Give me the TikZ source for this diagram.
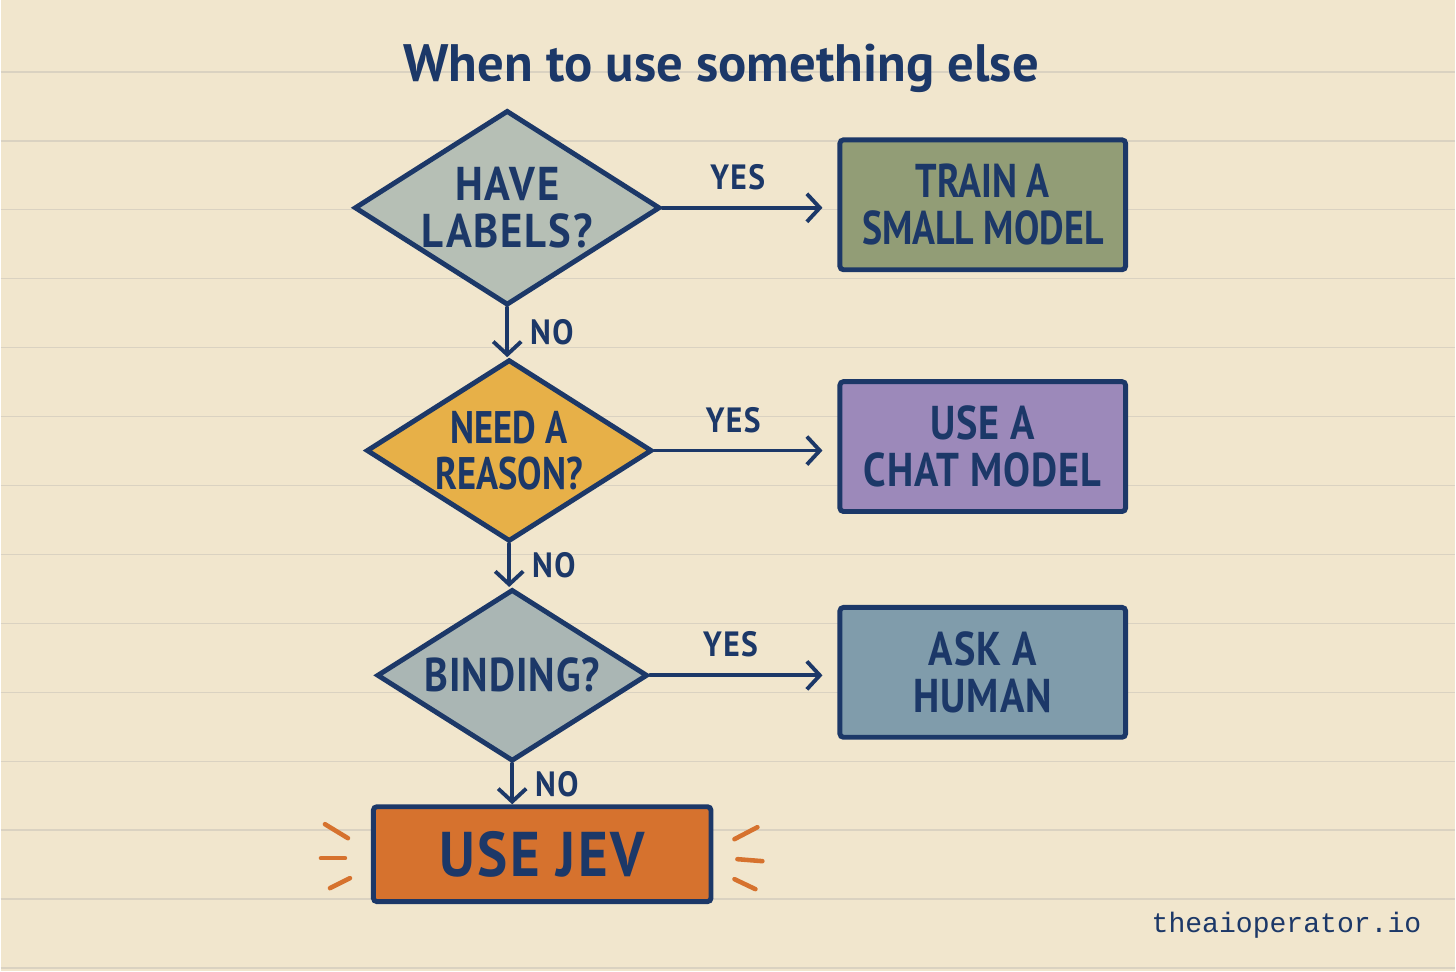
\documentclass[tikz,border=0pt]{standalone}
\usepackage{fontspec}
\usetikzlibrary{shapes.geometric,arrows.meta,positioning}
\newfontfamily\handfont{PT Sans}[FakeStretch=0.8]
\newfontfamily\handmid{PT Sans}[FakeStretch=0.85, LetterSpace=2]
\newfontfamily\handwide{PT Sans}[FakeStretch=0.9, LetterSpace=4]
\newfontfamily\titlehand{PT Sans}
\newfontfamily\sitefont{Liberation Mono}
\definecolor{mypaper}{RGB}{241,230,205}
\definecolor{myrule}{RGB}{218,210,193}
\definecolor{myink}{RGB}{28,56,104}
\definecolor{mysage}{RGB}{182,191,181}
\definecolor{myolive}{RGB}{146,157,118}
\definecolor{mymustard}{RGB}{231,176,72}
\definecolor{mylavender}{RGB}{156,137,186}
\definecolor{myslate}{RGB}{170,182,180}
\definecolor{mysteel}{RGB}{128,156,171}
\definecolor{mycarrot}{RGB}{214,114,46}

\begin{document}
\begin{tikzpicture}[
    x=0.02cm, y=-0.02cm,
    decision/.style={diamond, draw=myink, line width=2.8pt, inner sep=-0.4cm, shape aspect=1.6, align=center, text=myink, font={\handwide\bfseries\fontsize{27}{27}\selectfont}},
    action/.style={rectangle, draw=myink, line width=2.8pt, rounded corners=2pt, minimum width=5.72cm, minimum height=2.6cm, align=center, text=myink, font={\handmid\bfseries\fontsize{27}{27}\selectfont}},
    tag/.style={text=myink, inner sep=2pt, font={\handwide\bfseries\fontsize{20}{20}\selectfont}},
    arrow/.style={-{Straight Barb[length=2.6mm,width=5.6mm]}, line width=2.2pt, draw=myink, line cap=round, line join=round},
    spark/.style={draw=mycarrot, line width=2.6pt, line cap=round}
]

% Paper
\fill[mypaper] (0,0) rectangle (1456,972);
\foreach \y in {72,141,...,969}
  \draw[myrule, line width=0.8pt] (0,\y) -- (1456,\y);
\useasboundingbox (0,0) rectangle (1456,972);

% Title
\node[text=myink, font={\titlehand\bfseries\fontsize{30}{30}\selectfont}] (title) at (721,68) {When to use something else};

% Decisions
\node[decision, fill=mysage, minimum width=6.12cm, minimum height=3.9cm] (labels) at (507,208) {HAVE\\LABELS?};
\node[decision, fill=mymustard, minimum width=5.72cm, minimum height=3.64cm, font={\handfont\bfseries\fontsize{26}{26}\selectfont}] (reason) at (509,451) {NEED A\\REASON?};
\node[decision, fill=myslate, minimum width=5.42cm, minimum height=3.44cm, font={\handmid\bfseries\fontsize{27}{27}\selectfont}] (binding) at (512,676) {BINDING?};

% Outcomes
\node[action, fill=myolive, font={\handfont\bfseries\fontsize{27}{27}\selectfont}] (train) at (983,205) {TRAIN A\\SMALL MODEL};
\node[action, fill=mylavender] (chat) at (983,447) {USE A\\CHAT MODEL};
\node[action, fill=mysteel] (human) at (983,673) {ASK A\\HUMAN};
\node[action, fill=mycarrot, minimum width=6.76cm, minimum height=1.9cm, font={\handwide\bfseries\fontsize{36}{36}\selectfont}] (jev) at (542,855) {USE JEV};

% Arrows
\draw[arrow, shorten >=0.3cm] (labels.east) -- (labels.east -| train.west) node[tag, pos=0.43, above=0.25cm] {YES};
\draw[arrow, shorten >=0.3cm] (reason.east) -- (reason.east -| chat.west) node[tag, pos=0.43, above=0.25cm] {YES};
\draw[arrow, shorten >=0.3cm] (binding.east) -- (binding.east -| human.west) node[tag, pos=0.43, above=0.25cm] {YES};

\draw[arrow] (labels.south) -- (labels.south |- reason.north) node[tag, midway, right=0.35cm] {NO};
\draw[arrow] (reason.south) -- (reason.south |- binding.north) node[tag, midway, right=0.35cm] {NO};
\draw[arrow] (binding.south) -- (binding.south |- jev.north) node[tag, midway, right=0.35cm] {NO};

% Sparks round the answer
\draw[spark] ([shift={(-46,-30)}]jev.west) -- ++(23,14);
\draw[spark] ([shift={(-50,4)}]jev.west) -- ++(24,0);
\draw[spark] ([shift={(-41,34)}]jev.west) -- ++(20,-10);
\draw[spark] ([shift={(21,-15)}]jev.east) -- ++(23,-12);
\draw[spark] ([shift={(24,5)}]jev.east) -- ++(25,2);
\draw[spark] ([shift={(21,25)}]jev.east) -- ++(21,10);

% Footer
\node[text=myink, font={\sitefont\fontsize{16}{16}\selectfont}] (site) at (1287,926) {theaioperator.io};

\end{tikzpicture}
\end{document}
